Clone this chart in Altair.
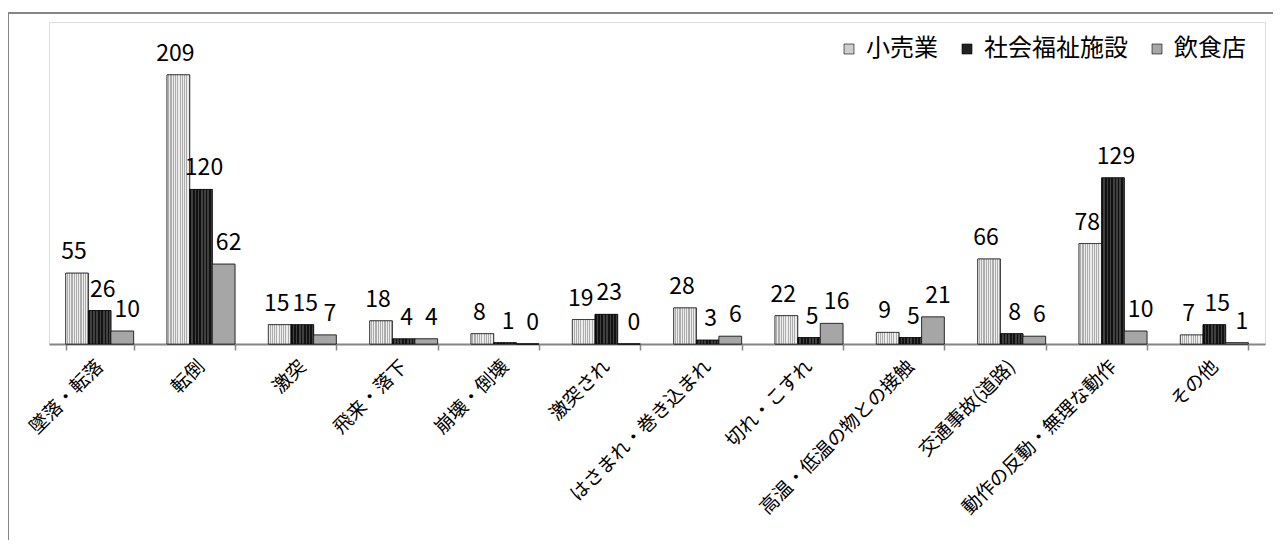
import altair as alt
import pandas as pd

categories = ["墜落・転落", "転倒", "激突", "飛来・落下", "崩壊・倒壊", "激突され",
              "はさまれ・巻き込まれ", "切れ・こすれ", "高温・低温の物との接触",
              "交通事故(道路)", "動作の反動・無理な動作", "その他"]
series = ["小売業", "社会福祉施設", "飲食店"]
retail = [55, 209, 15, 18, 8, 19, 28, 22, 9, 66, 78, 7]
welfare = [26, 120, 15, 4, 1, 23, 3, 5, 5, 8, 129, 15]
restaurant = [10, 62, 7, 4, 0, 0, 6, 16, 21, 6, 10, 1]
colors = ["#cdcdcd", "#222222", "#a6a6a6"]
label_dx = [-3, 3, 5]

rows = []
for s, vals in zip(series, [retail, welfare, restaurant]):
    for c, v in zip(categories, vals):
        rows.append({"category": c, "series": s, "value": v})
df = pd.DataFrame(rows)

FONT = "Noto Sans CJK JP"


def stripes(light, dark, n):
    stops = []
    for i in range(n):
        a, m, b = i / n, (i + 0.5) / n, (i + 1) / n
        stops += [alt.GradientStop(offset=a, color=light),
                  alt.GradientStop(offset=m, color=light),
                  alt.GradientStop(offset=m, color=dark),
                  alt.GradientStop(offset=b, color=dark)]
    return alt.LinearGradient(gradient="linear", x1=0, y1=0, x2=1, y2=0, stops=stops)


retail_fill = stripes("#ececec", "#adadad", 10)
welfare_fill = stripes("#121212", "#404040", 7)

x_scale = alt.Scale(domain=categories, paddingInner=0.33, paddingOuter=0.165)
xo_scale = alt.Scale(domain=series, paddingInner=0, paddingOuter=0)
y_scale = alt.Scale(domain=[0, 250], nice=False)

x_enc = alt.X("category:N", sort=categories, title=None, scale=x_scale,
              axis=alt.Axis(labelAngle=-45, labelAlign="right", labelBaseline="middle",
                            labelFontSize=19, labelFont=FONT, labelColor="#000000",
                            labelPadding=13, tickBand="extent", tickSize=6,
                            tickColor="#868686", domainColor="#868686", domainWidth=2,
                            tickWidth=1.5, labelLimit=400))
xo_enc = alt.XOffset("series:N", sort=series, scale=xo_scale)
y_enc = alt.Y("value:Q", axis=None, scale=y_scale)

base = alt.Chart(df)

border = base.mark_rect(fillOpacity=0, stroke="#868686", strokeWidth=1.5).encode(
    x=alt.value(-41), x2=alt.value(1400), y=alt.value(-9), y2=alt.value(700)
)

bars = base.mark_bar(stroke="#000000", strokeWidth=0.6).encode(
    x=x_enc, xOffset=xo_enc, y=y_enc,
    color=alt.Color("series:N", sort=series, title=None,
                    scale=alt.Scale(domain=series, range=colors),
                    legend=alt.Legend(orient="none", legendX=788, legendY=15,
                                      direction="horizontal", symbolType="square",
                                      symbolSize=100, symbolStrokeColor="#000000",
                                      symbolStrokeWidth=0.6, labelFontSize=24,
                                      labelFont=FONT, labelColor="#000000",
                                      columnPadding=17, labelOffset=5)),
)

texture = base.mark_bar(stroke="#000000", strokeWidth=0.6).encode(
    x=alt.X("category:N", sort=categories, scale=x_scale),
    xOffset=alt.XOffset("series:N", sort=series, scale=xo_scale),
    y=alt.Y("value:Q", scale=y_scale),
    fill={"condition": [{"test": "datum.series === '小売業'", "value": retail_fill.to_dict()},
                        {"test": "datum.series === '社会福祉施設'", "value": welfare_fill.to_dict()}],
          "value": colors[2]},
)

text_layers = []
for s, dx in zip(series, label_dx):
    text_layers.append(
        base.transform_filter(alt.datum.series == s)
        .mark_text(font=FONT, fontSize=23, baseline="alphabetic", dy=-14, dx=dx,
                   color="#000000")
        .encode(
            x=alt.X("category:N", sort=categories, scale=x_scale),
            xOffset=alt.XOffset("series:N", sort=series, scale=xo_scale),
            y=alt.Y("value:Q", scale=y_scale),
            text="value:Q",
        )
    )

chart = alt.layer(border, bars, texture, *text_layers).properties(
    width=1216, height=322,
    autosize=alt.AutoSizeParams(type="none"),
    padding={"left": 41, "top": 14, "right": 8, "bottom": 196},
).configure_view(stroke=None).configure(background="#ffffff")

chart.save("out.html", embed_options={"renderer": "svg", "actions": False})
